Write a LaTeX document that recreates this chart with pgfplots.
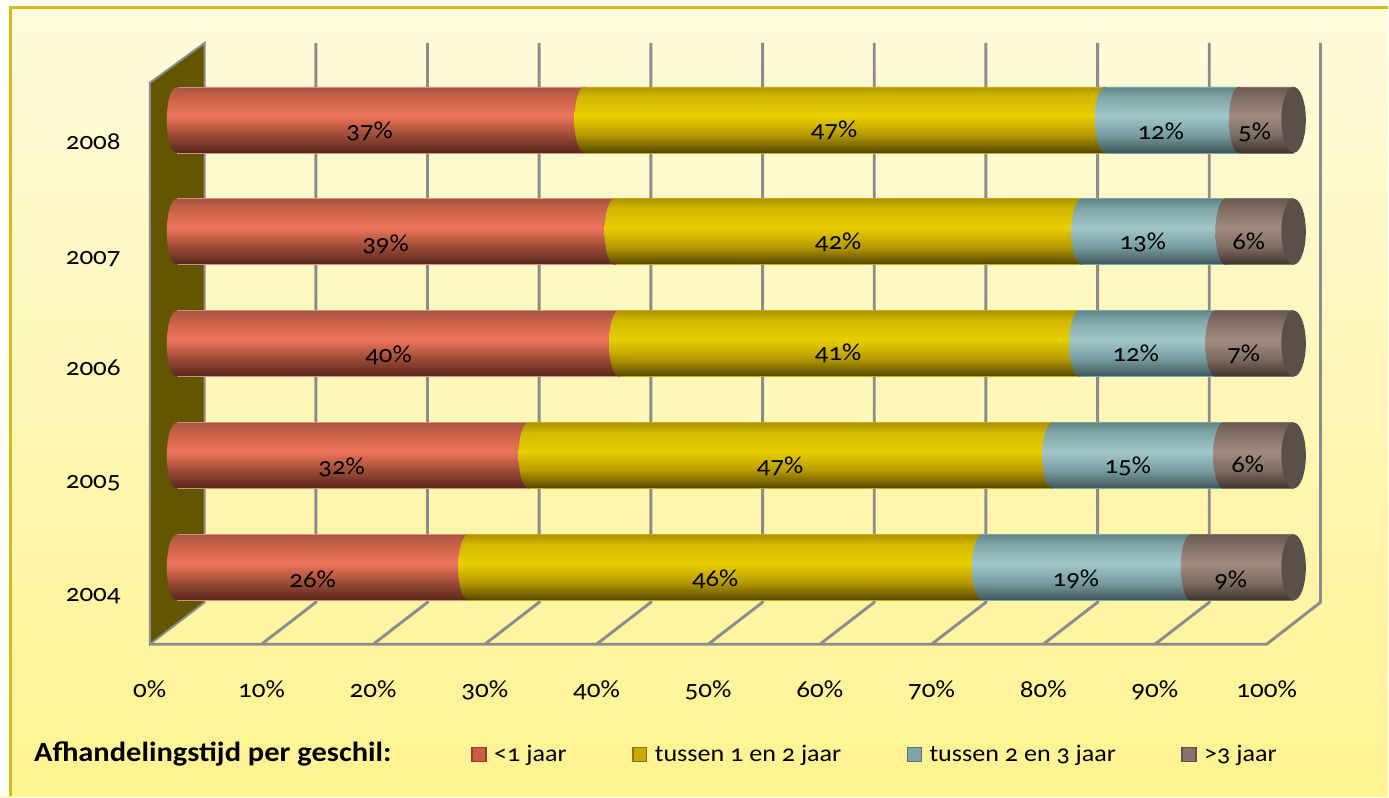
\documentclass[border=0pt]{standalone}
\usepackage{fontspec}
\setmainfont[Numbers=OldStyle,FakeStretch=1.1]{Carlito}
\usepackage{pgfplots}
\pgfplotsset{compat=1.18}
\definecolor{goldframe}{RGB}{212,188,16}
\definecolor{gridg}{RGB}{140,140,140}
\definecolor{wallc}{RGB}{100,85,0}
\definecolor{capc}{RGB}{90,79,73}
\definecolor{legr}{RGB}{205,92,70}
\definecolor{legy}{RGB}{200,170,0}
\definecolor{legt}{RGB}{125,165,170}
\definecolor{legb}{RGB}{135,115,105}
% #1 name, #2-#7 six rgb triples from the bottom of a cylinder to its top
% pgf fits a path's bounding box to the central 25bp--75bp of a shading
\newcommand\mkshade[7]{%
 \pgfdeclareverticalshading{#1}{100bp}{rgb(0bp)=(#2); rgb(25bp)=(#2); rgb(28bp)=(#3); rgb(39bp)=(#4); rgb(53bp)=(#5); rgb(67.5bp)=(#6); rgb(75bp)=(#7); rgb(100bp)=(#7)}%
 \gdef\stops{rgb(0bp)=(#2)}%
 \foreach \i in {0,...,4}{%
  \foreach \p/\c in {0/{#2},0.06/{#3},0.28/{#4},0.56/{#5},0.85/{#6},1/{#7}}{%
   \pgfmathsetmacro\y{25+50*(\i*0.2179+\p*0.1284)}%
   \xdef\stops{\stops; rgb(\y bp)=(\c)}%
  }}%
 \xdef\stops{\stops; rgb(100bp)=(#7)}%
 \edef\tmp{\noexpand\pgfdeclareverticalshading{#1s}{100bp}{\stops}}\tmp}
\mkshade{redbar}{0.33,0.15,0.11}{0.40,0.18,0.13}{0.62,0.30,0.22}{0.93,0.46,0.35}{0.78,0.38,0.28}{0.66,0.33,0.25}
\mkshade{yelbar}{0.30,0.25,0.0}{0.42,0.35,0.0}{0.72,0.61,0.0}{0.91,0.81,0.0}{0.83,0.72,0.0}{0.69,0.58,0.0}
\mkshade{tealbar}{0.24,0.33,0.34}{0.30,0.40,0.41}{0.47,0.62,0.64}{0.63,0.78,0.79}{0.50,0.65,0.66}{0.38,0.52,0.53}
\mkshade{brownbar}{0.24,0.20,0.18}{0.30,0.25,0.22}{0.50,0.43,0.39}{0.63,0.55,0.50}{0.50,0.43,0.39}{0.42,0.35,0.31}
\newcommand\capmark[2]{\pgfdeclareplotmark{#1}{%
 \pgfpathellipse{\pgfpointorigin}{\pgfpoint{7.5pt}{0pt}}{\pgfpoint{0pt}{24.75pt}}\pgfshadepath{#2}{0}\pgfusepath{discard}}}
\capmark{redcap}{redbar}\capmark{yelcap}{yelbar}\capmark{tealcap}{tealbar}\capmark{browncap}{brownbar}
\pgfdeclareplotmark{endcap}{\pgfsetfillcolor{capc}%
 \pgfpathellipse{\pgfpointorigin}{\pgfpoint{9.2pt}{0pt}}{\pgfpoint{0pt}{24.75pt}}\pgfusepath{fill}}
\newcommand\lab[3]{\node[font=\fontsize{18.3}{20}\selectfont,text=black] at (axis cs:{(#1-177)/11.18},{(568-#2)/112}) {#3};}
\newcommand\legimg[2]{\node[draw=#2,line width=1.2pt,fill=#1,minimum size=10.5pt,inner sep=0pt] at (5pt,0pt) {};}
\begin{document}
\begin{tikzpicture}
\begin{axis}[
 scale only axis, width=1041.75pt, height=597.75pt,
 xmin=-15.83, xmax=108.41, ymin=-2.045, ymax=5.071,
 clip=false,
 axis background/.style={shade,top color={rgb,255:red,255;green,251;blue,221},bottom color={rgb,255:red,255;green,243;blue,145}},
 axis line style={draw=none}, tick style={draw=none},
 xtick pos=bottom, ytick pos=left,
 xtick={-2.42,7.58,17.58,27.58,37.58,47.58,57.58,67.58,77.58,87.58,97.58},
 xticklabels={0\%,10\%,20\%,30\%,40\%,50\%,60\%,70\%,80\%,90\%,100\%},
 ytick={-0.259,0.75,1.785,2.759,3.804},
 yticklabels={2004,2005,2006,2007,2008},
 tick label style={font=\fontsize{18.5}{20}\selectfont},
 xticklabel style={yshift=90.2pt},
 yticklabel style={anchor=center,xshift=70pt},
 legend style={at={(rel axis cs:0.3395,0.0525)},anchor=west,draw=none,fill=none,
   legend columns=4,font=\fontsize{17.8}{20}\selectfont,inner sep=0pt,
   /tikz/every even column/.append style={column sep=47.5pt},
   /tikz/every odd column/.append style={column sep=4pt},
   nodes={inner sep=1.5pt}},
 legend cell align=left,
 after end axis/.code={%
  \lab{370}{132}{37\%}\lab{835}{131}{47\%}\lab{1162}{131}{12\%}\lab{1256}{133}{5\%}
  \lab{386}{245}{39\%}\lab{839}{243}{42\%}\lab{1144}{243}{13\%}\lab{1250}{242}{6\%}
  \lab{389}{356}{40\%}\lab{839}{354}{41\%}\lab{1137}{354}{12\%}\lab{1245}{355}{7\%}
  \lab{342}{468}{32\%}\lab{781}{467}{47\%}\lab{1129}{467}{15\%}\lab{1249}{465}{6\%}
  \lab{313}{580}{26\%}\lab{716}{580}{46\%}\lab{1077}{580}{19\%}\lab{1232}{581}{9\%}
 },
]
% white margin and frame
\fill[white] (axis cs:-15.83,-2.045) rectangle (axis cs:-14.85,5.071);
\fill[white] (axis cs:-15.83,5.0) rectangle (axis cs:108.41,5.071);
\draw[goldframe,line width=2.25pt] (axis cs:-14.85,-2.045) -- (axis cs:-14.85,5.0) -- (axis cs:108.41,5.0);
% left wall
\addplot[stack plots=false,forget plot,sharp plot,fill=wallc,draw=gridg,line width=1.5pt,mark=none]
 coordinates {(-2.42,-0.6875)(-2.42,4.33)(2.5,4.6875)(2.5,-0.3125)} -- cycle;
% back and floor grid
\addplot[stack plots=false,forget plot,sharp plot,draw=gridg,line width=2.2pt,mark=none,unbounded coords=jump]
 coordinates {
 (12.45,4.6875)(12.45,-0.3125)(7.58,-0.6875)(nan,nan)
 (22.45,4.6875)(22.45,-0.3125)(17.58,-0.6875)(nan,nan)
 (32.45,4.6875)(32.45,-0.3125)(27.58,-0.6875)(nan,nan)
 (42.45,4.6875)(42.45,-0.3125)(37.58,-0.6875)(nan,nan)
 (52.45,4.6875)(52.45,-0.3125)(47.58,-0.6875)(nan,nan)
 (62.45,4.6875)(62.45,-0.3125)(57.58,-0.6875)(nan,nan)
 (72.45,4.6875)(72.45,-0.3125)(67.58,-0.6875)(nan,nan)
 (82.45,4.6875)(82.45,-0.3125)(77.58,-0.6875)(nan,nan)
 (92.45,4.6875)(92.45,-0.3125)(87.58,-0.6875)(nan,nan)
 (102.41,4.6875)(102.41,-0.3125)(97.58,-0.6875)(nan,nan)
 (-2.42,-0.6875)(97.58,-0.6875)
 };
% stacked bars with their left-hand curved edges
\addplot[xbar stacked,bar width=49.5pt,shade,shading=redbars,draw=legr!70!white,line width=0.4pt,
   legend image code/.code={\legimg{legr}{legr!70!black}}]
 coordinates {(26.1,0)(31.5,1)(39.6,2)(39.2,3)(36.5,4)};
\addlegendentry{<1 jaar}
\addplot[stack plots=false,forget plot,sharp plot,only marks,mark=redcap]
 coordinates {(0,0)(0,1)(0,2)(0,3)(0,4)};
\addplot[xbar stacked,bar width=49.5pt,shade,shading=yelbars,draw=legy,line width=0.4pt,
   legend image code/.code={\legimg{legy}{legy!70!black}}]
 coordinates {(46.0,0)(46.9,1)(41.2,2)(41.8,3)(46.6,4)};
\addlegendentry{tussen 1 en 2 jaar}
\addplot[stack plots=false,forget plot,sharp plot,only marks,mark=yelcap]
 coordinates {(26.1,0)(31.5,1)(39.6,2)(39.2,3)(36.5,4)};
\addplot[xbar stacked,bar width=49.5pt,shade,shading=tealbars,draw=legt,line width=0.4pt,
   legend image code/.code={\legimg{legt}{legt!70!black}}]
 coordinates {(18.7,0)(15.3,1)(12.2,2)(12.9,3)(12.0,4)};
\addlegendentry{tussen 2 en 3 jaar}
\addplot[stack plots=false,forget plot,sharp plot,only marks,mark=tealcap]
 coordinates {(72.1,0)(78.4,1)(80.8,2)(81.0,3)(83.1,4)};
\addplot[xbar stacked,bar width=49.5pt,shade,shading=brownbars,draw=legb,line width=0.4pt,
   legend image code/.code={\legimg{legb}{legb!70!black}}]
 coordinates {(9.2,0)(6.3,1)(7.0,2)(6.1,3)(4.9,4)};
\addlegendentry{>3 jaar}
\addplot[stack plots=false,forget plot,sharp plot,only marks,mark=browncap]
 coordinates {(90.8,0)(93.7,1)(93.0,2)(93.9,3)(95.1,4)};
\addplot[stack plots=false,forget plot,sharp plot,only marks,mark=endcap]
 coordinates {(100,0)(100,1)(100,2)(100,3)(100,4)};
\node[anchor=west,inner sep=0pt,font=\bfseries\fontsize{20.8}{23}\selectfont] at (axis cs:{(34-177)/11.18},{(568-755)/112}) {Afhandelingstijd per geschil:};
\end{axis}
\end{tikzpicture}
\end{document}
